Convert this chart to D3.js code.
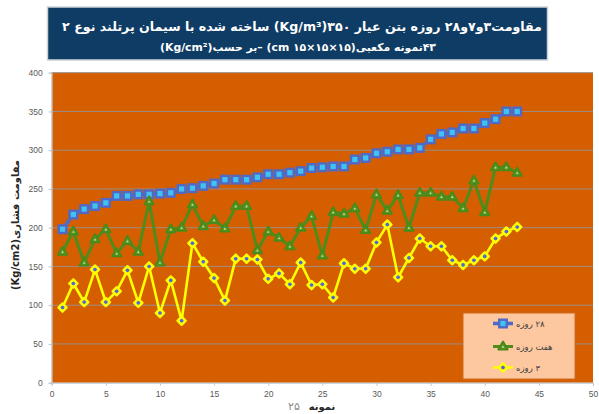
<!DOCTYPE html>
<html>
<head>
<meta charset="utf-8">
<script src="https://cdn.jsdelivr.net/npm/d3@7"></script>
<style>
  html, body { margin: 0; padding: 0; background: #ffffff; }
  svg { display: block; }
</style>
</head>
<body>
<svg id="chart" width="599" height="414"></svg>
<script>
// Sample numbers (x axis)
const samples = [1,2,3,4,5,6,7,8,9,10,11,12,13,14,15,16,17,18,19,20,21,22,23,24,25,26,27,28,29,30,31,32,33,34,35,36,37,38,39,40,41,42,43];

// 28-day compressive strength (Kg/cm2)
const day28 = [198,217,224,228,232,241,241,243,243,244,245,250,251,254,257,262,262,262,265,269,269,271,273,277,278,279,279,288,290,296,298,301,301,303,314,321,323,328,328,335,340,350,350];
// 7-day compressive strength
const day7 = [169,195,155,185,198,167,183,169,234,155,198,200,230,202,210,199,228,228,171,195,187,176,200,215,164,220,218,225,197,243,222,242,200,245,245,240,240,225,261,220,278,278,271];
// 3-day compressive strength
const day3 = [97,128,104,146,104,118,145,103,150,90,132,80,180,156,135,106,160,160,159,134,141,127,155,126,127,110,154,147,147,181,204,136,161,186,176,176,158,152,158,163,186,195,201];

const seriesNames = ["۲۸ روزه", "هفت روزه", "۳ روزه"];
const yTicks = [0,50,100,150,200,250,300,350,400];
const xTicks = [0,5,10,15,20,25,30,35,40,45,50];

const titleLine1 = "مقاومت۳و۷و۲۸ روزه بتن عیار ۳۵۰(Kg/m³) ساخته شده با سیمان پرتلند نوع ۲";
const titleLine2 = "۴۳نمونه مکعبی(۱۵×۱۵×۱۵ cm) –بر حسب(Kg/cm²)";
const yTitle = "مقاومت  فشاری(Kg/cm2)";
const xTitle = "نمونه";
const xNote = "۲۵";

const svg = d3.select("#chart");
const faFont = "'DejaVu Sans', sans-serif";
const numFont = "'Liberation Sans', Arial, sans-serif";

// Plot region
const plotLeft = 51.7, plotRight = 593, plotTop = 72.7, plotBottom = 382.7;
const x = d3.scaleLinear().domain([0, 50]).range([plotLeft, plotRight]);
const y = d3.scaleLinear().domain([0, 400]).range([plotBottom, plotTop]);

// Fit a text element to a target width by adjusting its font size
function fitWidth(sel, baseSize, width) {
  sel.attr("font-size", baseSize);
  const len = sel.node().getComputedTextLength();
  sel.attr("font-size", baseSize * width / len);
}

// Title banner
svg.append("rect")
  .attr("x", 47.5).attr("y", 7).attr("width", 500).attr("height", 53)
  .attr("fill", "#0f3c64").attr("stroke", "#cfd3d8").attr("stroke-width", 1.5);

const t1 = svg.append("text")
  .attr("x", 302).attr("y", 31)
  .attr("text-anchor", "middle").style("direction", "rtl")
  .attr("font-family", faFont).attr("font-weight", "bold")
  .attr("fill", "#ffffff").text(titleLine1);
fitWidth(t1, 14, 480);

const t2 = svg.append("text")
  .attr("x", 298).attr("y", 51)
  .attr("text-anchor", "middle").style("direction", "rtl")
  .attr("font-family", faFont).attr("font-weight", "bold")
  .attr("fill", "#ffffff").text(titleLine2);
fitWidth(t2, 11, 276);

// Plot background
svg.append("rect")
  .attr("x", plotLeft).attr("y", plotTop)
  .attr("width", plotRight - plotLeft).attr("height", plotBottom - plotTop)
  .attr("fill", "#d55e00");

// Horizontal gridlines
svg.append("g").selectAll("line")
  .data(yTicks.filter(v => v > 0))
  .join("line")
  .attr("x1", plotLeft).attr("x2", plotRight)
  .attr("y1", d => y(d)).attr("y2", d => y(d))
  .attr("stroke", "#9a8e86").attr("stroke-width", 1);

// Axes
const yAxis = svg.append("g")
  .attr("transform", `translate(${plotLeft},0)`)
  .call(d3.axisLeft(y).tickValues(yTicks).tickSize(3).tickPadding(6));
const xAxis = svg.append("g")
  .attr("transform", `translate(0,${plotBottom})`)
  .call(d3.axisBottom(x).tickValues(xTicks).tickSize(3).tickPadding(5));

[yAxis, xAxis].forEach(g => {
  g.select(".domain").attr("stroke", "#b8c4d0");
  g.selectAll(".tick line").attr("stroke", "#b8c4d0");
  g.selectAll(".tick text")
    .attr("fill", "#595959")
    .attr("font-family", numFont)
    .attr("font-size", 8.5);
});

// Series lines and markers
const line = d3.line().x((d, i) => x(samples[i])).y(d => y(d));

function drawLine(values, color, width) {
  svg.append("path")
    .datum(values)
    .attr("d", line)
    .attr("fill", "none")
    .attr("stroke", color)
    .attr("stroke-width", width)
    .attr("stroke-linejoin", "round");
}

function squareMarker(g) {
  g.append("rect").attr("x", -3.8).attr("y", -3.8).attr("width", 7.6).attr("height", 7.6)
    .attr("fill", "#3fc3f2").attr("stroke", "#5169c4").attr("stroke-width", 2.4);
}
function triangleMarker(g) {
  g.append("polygon").attr("points", "0,-5 4.6,3 -4.6,3")
    .attr("fill", "#5f9a2c").attr("stroke", "#4a8a18").attr("stroke-width", 2)
    .attr("stroke-linejoin", "round");
  g.append("circle").attr("cy", 0.5).attr("r", 0.9).attr("fill", "#c4e0a0");
}
function diamondMarker(g) {
  g.append("polygon").attr("points", "0,-4.2 4.2,0 0,4.2 -4.2,0")
    .attr("fill", "#f5d640").attr("stroke", "#ffff00").attr("stroke-width", 2.2)
    .attr("stroke-linejoin", "round");
  g.append("circle").attr("r", 1.8).attr("fill", "#4a68d0");
}

function drawMarkers(values, shape) {
  svg.append("g").selectAll("g")
    .data(values)
    .join("g")
    .attr("transform", (d, i) => `translate(${x(samples[i])},${y(d)})`)
    .each(function () { shape(d3.select(this)); });
}

drawLine(day28, "#4f6bc8", 3.6);
drawMarkers(day28, squareMarker);
drawLine(day7, "#4f8c1c", 3);
drawMarkers(day7, triangleMarker);
drawLine(day3, "#ffff00", 2.6);
drawMarkers(day3, diamondMarker);

// Legend
const legend = svg.append("g");
legend.append("rect")
  .attr("x", 463).attr("y", 313).attr("width", 112).attr("height", 66)
  .attr("fill", "#fdc89f").attr("stroke", "#d06a20").attr("stroke-width", 1);

const legendItems = [
  { name: seriesNames[0], color: "#4f6bc8", width: 3.6, shape: squareMarker },
  { name: seriesNames[1], color: "#4f8c1c", width: 3, shape: triangleMarker },
  { name: seriesNames[2], color: "#ffff00", width: 2.6, shape: diamondMarker }
];
const legendRows = [323.5, 346.5, 367.5];
legendItems.forEach((item, k) => {
  const ly = legendRows[k];
  legend.append("line")
    .attr("x1", 493).attr("x2", 513).attr("y1", ly).attr("y2", ly)
    .attr("stroke", item.color).attr("stroke-width", item.width);
  const m = legend.append("g").attr("transform", `translate(503,${ly})`);
  item.shape(m);
  const t = legend.append("text")
    .attr("y", ly + 3.2)
    .attr("text-anchor", "middle").style("direction", "rtl")
    .attr("font-family", faFont).attr("font-size", 8.5)
    .attr("fill", "#404040").text(item.name);
  const len = t.node().getComputedTextLength();
  t.attr("x", 516 + len / 2);
});

// Axis titles
svg.append("text")
  .attr("transform", "translate(19,225) rotate(-90)")
  .attr("text-anchor", "middle").style("direction", "rtl")
  .attr("font-family", faFont).attr("font-weight", "bold").attr("font-size", 10)
  .attr("fill", "#262626").text(yTitle);

svg.append("text")
  .attr("x", 322).attr("y", 410)
  .attr("text-anchor", "middle").style("direction", "rtl")
  .attr("font-family", faFont).attr("font-weight", "bold").attr("font-size", 10)
  .attr("fill", "#262626").text(xTitle);

svg.append("text")
  .attr("x", 294).attr("y", 410)
  .attr("text-anchor", "middle").style("direction", "rtl")
  .attr("font-family", faFont).attr("font-size", 11)
  .attr("fill", "#8c8c8c").text(xNote);
</script>
</body>
</html>
